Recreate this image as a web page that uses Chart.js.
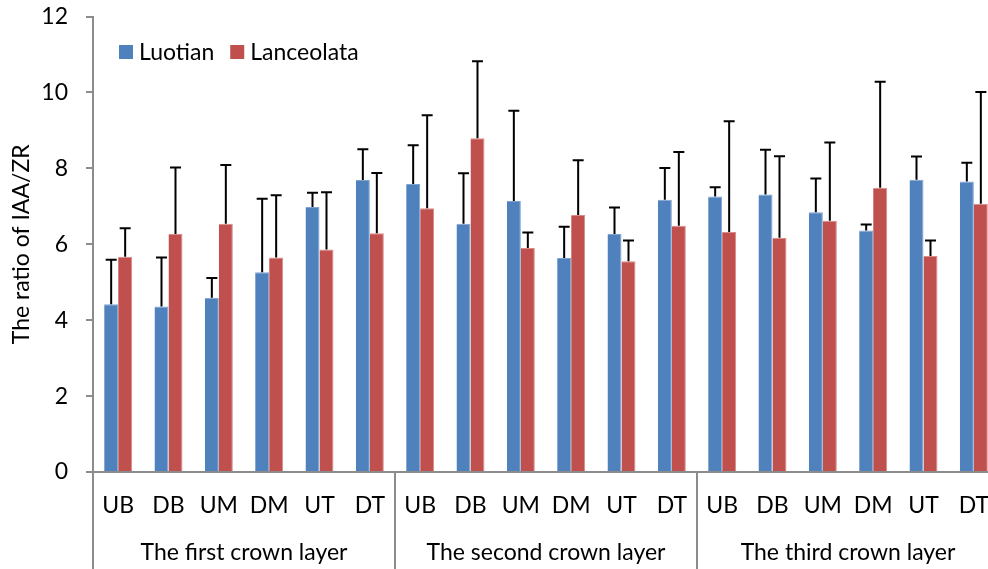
<!DOCTYPE html>
<html>
<head>
<meta charset="utf-8">
<script src="https://cdn.jsdelivr.net/npm/chart.js@4.4.1/dist/chart.umd.min.js"></script>
<style>
  html, body { margin: 0; padding: 0; background: #fff; overflow: hidden; }
  #wrap { width: 1010px; height: 569px; position: relative; }
</style>
</head>
<body>
<div id="wrap"><canvas id="c"></canvas></div>
<script>
// ---- data ----
const categories = ["UB","DB","UM","DM","UT","DT","UB","DB","UM","DM","UT","DT","UB","DB","UM","DM","UT","DT"];
const groups = ["The first crown layer", "The second crown layer", "The third crown layer"];
const seriesNames = ["Luotian", "Lanceolata"];
const luotian = [4.42, 4.36, 4.59, 5.26, 6.98, 7.69, 7.59, 6.54, 7.14, 5.64, 6.27, 7.17, 7.26, 7.31, 6.84, 6.36, 7.70, 7.65];
const luotianErr = [1.17, 1.29, 0.52, 1.94, 0.38, 0.81, 1.02, 1.33, 2.38, 0.82, 0.70, 0.84, 0.24, 1.18, 0.89, 0.16, 0.61, 0.50];
const lanceolata = [5.67, 6.27, 6.54, 5.65, 5.86, 6.29, 6.95, 8.79, 5.90, 6.77, 5.55, 6.49, 6.32, 6.17, 6.62, 7.49, 5.69, 7.07];
const lanceolataErr = [0.75, 1.75, 1.55, 1.64, 1.51, 1.59, 2.45, 2.03, 0.41, 1.44, 0.55, 1.94, 2.92, 2.15, 2.06, 2.79, 0.41, 2.94];
const yTicks = [0, 2, 4, 6, 8, 10, 12];
const groupSize = 6;

const FONT = "Lato";
const FS = 23;
const AXIS = "#8c8c8c";

const errorBars = {
  id: "errorBars",
  afterDatasetsDraw(chart) {
    const ctx = chart.ctx;
    const y = chart.scales.y;
    ctx.save();
    ctx.strokeStyle = "#000";
    ctx.lineWidth = 2;
    chart.data.datasets.forEach((ds, di) => {
      const meta = chart.getDatasetMeta(di);
      meta.data.forEach((bar, i) => {
        const top = y.getPixelForValue(ds.data[i] + ds.errors[i]);
        const base = y.getPixelForValue(ds.data[i]);
        ctx.beginPath();
        ctx.moveTo(bar.x, base);
        ctx.lineTo(bar.x, top);
        ctx.moveTo(bar.x - 5.5, top);
        ctx.lineTo(bar.x + 5.5, top);
        ctx.stroke();
      });
    });
    ctx.restore();
  }
};

const separators = {
  id: "separators",
  afterDraw(chart) {
    const ctx = chart.ctx;
    const x = chart.scales.x;
    const half = (x.getPixelForValue(1) - x.getPixelForValue(0)) / 2;
    ctx.save();
    ctx.strokeStyle = AXIS;
    ctx.lineWidth = 2;
    for (let b = 0; b <= categories.length; b += groupSize) {
      const px = Math.round(x.getPixelForValue(b) - half);
      ctx.beginPath();
      ctx.moveTo(px, chart.chartArea.bottom);
      ctx.lineTo(px, chart.height);
      ctx.stroke();
    }
    ctx.restore();
  }
};

const innerLegend = {
  id: "innerLegend",
  afterDraw(chart) {
    const ctx = chart.ctx;
    const area = chart.chartArea;
    ctx.save();
    ctx.font = FS + "px " + FONT;
    ctx.textBaseline = "middle";
    let xPos = area.left + 26;
    const yMid = area.top + 35.5;
    chart.data.datasets.forEach(ds => {
      ctx.fillStyle = ds.backgroundColor;
      ctx.fillRect(xPos, yMid - 7, 14, 14);
      ctx.fillStyle = "#000";
      ctx.textAlign = "left";
      ctx.fillText(ds.label, xPos + 20, yMid + 1);
      xPos += 20 + ctx.measureText(ds.label).width + 16;
    });
    ctx.restore();
  }
};

new Chart(document.getElementById("c"), {
  type: "bar",
  data: {
    labels: categories,
    datasets: [
      { label: seriesNames[0], data: luotian, errors: luotianErr, backgroundColor: "#4F81BD",
        borderColor: "#7fa3d1", borderWidth: {right: 1, top: 1}, borderSkipped: "bottom",
        barPercentage: 1, categoryPercentage: 0.556 },
      { label: seriesNames[1], data: lanceolata, errors: lanceolataErr, backgroundColor: "#C0504D",
        borderColor: "#d98b89", borderWidth: {right: 1, top: 1}, borderSkipped: "bottom",
        barPercentage: 1, categoryPercentage: 0.556 }
    ]
  },
  options: {
    responsive: true,
    maintainAspectRatio: false,
    animation: false,
    layout: { padding: { left: 0, right: 11, top: 16.5, bottom: 0 } },
    plugins: { legend: { display: false }, tooltip: { enabled: false } },
    scales: {
      x: {
        type: "category",
        position: "bottom",
        offset: true,
        grid: { display: false, drawTicks: false },
        border: { display: true, color: AXIS, width: 2 },
        ticks: { color: "#000", font: { family: FONT, size: FS }, padding: 20, autoSkip: false, maxRotation: 0 },
        afterFit(s) { s.height = 48; }
      },
      x2: {
        type: "category",
        position: "bottom",
        labels: groups,
        offset: true,
        grid: { display: false, drawTicks: false },
        border: { display: false },
        ticks: { color: "#000", font: { family: FONT, size: FS }, padding: 19, autoSkip: false, maxRotation: 0 },
        afterFit(s) { s.height = 49; }
      },
      y: {
        min: 0,
        max: 12,
        afterBuildTicks(s) { s.ticks = yTicks.map(v => ({ value: v })); },
        grid: { drawOnChartArea: false, drawTicks: true, tickLength: 7, color: AXIS, lineWidth: 2 },
        border: { display: true, color: AXIS, width: 2 },
        ticks: { color: "#000", font: { family: FONT, size: FS }, padding: 18 },
        title: { display: true, text: "The ratio of IAA/ZR", color: "#000", font: { family: FONT, size: FS }, padding: { top: 8, bottom: 0 } },
        afterFit(s) { s.width = 93; s.paddingTop = 0; s.paddingBottom = 0; }
      }
    }
  },
  plugins: [errorBars, separators, innerLegend]
});
</script>
</body>
</html>
